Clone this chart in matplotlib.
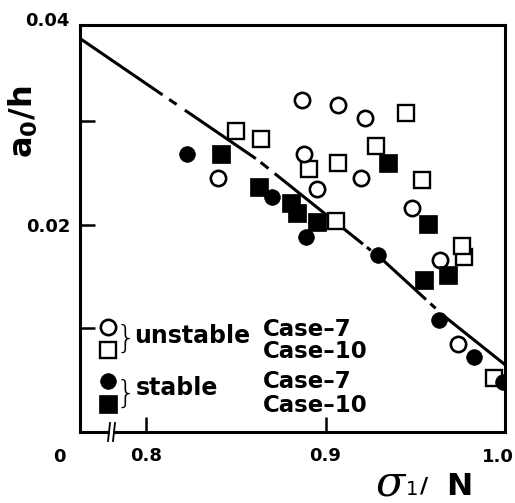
import matplotlib
matplotlib.use("Agg")
import matplotlib.pyplot as plt

plt.rcParams["font.family"] = ["DejaVu Sans"]
plt.rcParams["lines.scale_dashes"] = False
plt.rcParams["mathtext.fontset"] = "dejavusans"

W, H, DPI = 515, 503, 100

# unstable, Case-7 (open circles)
u7_x = [0.840, 0.887, 0.907, 0.922, 0.888, 0.920, 0.895, 0.948, 0.964, 0.974]
u7_y = [0.0245, 0.0321, 0.0316, 0.0303, 0.0268, 0.0245, 0.0235, 0.0216, 0.0166, 0.0085]
# unstable, Case-10 (open squares)
u10_x = [0.850, 0.864, 0.891, 0.907, 0.928, 0.945, 0.954, 0.906, 0.977, 0.976, 0.994]
u10_y = [0.0291, 0.0283, 0.0254, 0.0260, 0.0276, 0.0308, 0.0243, 0.0204, 0.0169, 0.0180, 0.0052]
# stable, Case-7 (filled circles)
s7_x = [0.823, 0.870, 0.889, 0.929, 0.963, 0.983, 0.999]
s7_y = [0.0268, 0.0227, 0.0188, 0.0171, 0.0108, 0.0072, 0.0048]
# stable, Case-10 (filled squares)
s10_x = [0.842, 0.863, 0.881, 0.884, 0.895, 0.935, 0.957, 0.955, 0.968]
s10_y = [0.0268, 0.0237, 0.0221, 0.0211, 0.0203, 0.0260, 0.0201, 0.0147, 0.0152]

# stability boundary
line_x = [0.7632, 0.862, 0.932, 0.966, 1.0]
line_y = [0.0380, 0.0263, 0.0166, 0.0112, 0.0065]

x_ticks = [0.8, 0.9, 1.0]
x_ticklabels = ["0.8", "0.9", ""]
y_ticks = [0.01, 0.02, 0.03]
y_ticklabels = ["", "0.02", ""]

fig = plt.figure(figsize=(W / DPI, H / DPI), dpi=DPI)


def fx(p):
    return p / W


def fy(p):
    return 1 - p / H


ax = fig.add_axes([fx(80), fy(432), fx(505) - fx(80), fy(25) - fy(432)])
ax.set_xlim(0.7632, 1.0)
ax.set_ylim(0.0, 0.0393)

for s in ax.spines.values():
    s.set_linewidth(2.2)

ax.set_xticks(x_ticks)
ax.set_xticklabels(x_ticklabels)
ax.set_yticks(y_ticks)
ax.set_yticklabels(y_ticklabels)
ax.tick_params(direction="in", length=11, width=1.8)
ax.tick_params(axis="x", pad=11, labelsize=13)
ax.tick_params(axis="y", pad=7, labelsize=13)
for lab in ax.get_xticklabels() + ax.get_yticklabels():
    lab.set_fontweight("bold")

# boundary line with its irregular dash-dot rhythm
dash_px = [100, 8, 9, 10, 86, 6, 10, 8, 113, 5, 5, 8, 66, 6, 7, 8, 90, 10]
dash_pt = [d * 0.72 for d in dash_px]
ax.plot(line_x, line_y, color="black", lw=2.2, linestyle=(0, dash_pt),
        solid_capstyle="butt", zorder=2)

ax.plot(u10_x, u10_y, "s", ms=11, mfc="white", mec="black", mew=1.7, zorder=3)
ax.plot(u7_x, u7_y, "o", ms=11, mfc="white", mec="black", mew=1.9, zorder=4)
ax.plot(s10_x, s10_y, "s", ms=12.5, mfc="black", mec="black", mew=0.5, zorder=5)
ax.plot(s7_x, s7_y, "o", ms=11.3, mfc="black", mec="black", mew=0.5, zorder=6)

# legend block
T = ax.transAxes
lx = (108 - 80) / 425


def ay(p):
    return (432 - p) / 407


ax.plot([lx], [ay(327)], "o", ms=11, mfc="white", mec="black", mew=1.9, transform=T, clip_on=False, zorder=7)
ax.plot([lx], [ay(350)], "s", ms=11, mfc="white", mec="black", mew=1.7, transform=T, clip_on=False, zorder=7)
ax.plot([lx], [ay(381)], "o", ms=11.3, mfc="black", mec="black", mew=0.5, transform=T, clip_on=False, zorder=7)
ax.plot([lx], [ay(404)], "s", ms=12.5, mfc="black", mec="black", mew=0.5, transform=T, clip_on=False, zorder=7)

bx = (126 - 80) / 425
ax.text(bx, ay(339), "}", transform=T, ha="center", va="center", fontsize=23, fontweight="light")
ax.text(bx, ay(394), "}", transform=T, ha="center", va="center", fontsize=23, fontweight="light")
ax.text((134 - 80) / 425, ay(336), "unstable", transform=T, ha="left", va="center",
        fontsize=17, fontweight="bold")
ax.text((136 - 80) / 425, ay(388), "stable", transform=T, ha="left", va="center",
        fontsize=17, fontweight="bold")
cx = (263 - 80) / 425
for yy, txt in [(330, "Case\u20137"), (352, "Case\u201310"), (382, "Case\u20137"), (405, "Case\u201310")]:
    ax.text(cx, ay(yy), txt, transform=T, ha="left", va="center", fontsize=16.5, fontweight="bold")

# axis break on the abscissa
for bxp in (109, 114):
    ax.plot([(bxp - 1 - 80) / 425, (bxp + 1 - 80) / 425], [ay(441), ay(423)],
            color="black", lw=1.3, transform=T, clip_on=False, zorder=8)
ax.add_patch(plt.Rectangle(((110 - 80) / 425, ay(434)), 3 / 425, 4 / 407, transform=T,
                           facecolor="white", edgecolor="none", clip_on=False, zorder=7))

# corner labels
fig.text(fx(59), fy(457), "0", ha="center", va="center", fontsize=13, fontweight="bold")
fig.text(fx(70), fy(21), "0.04", ha="right", va="center", fontsize=13, fontweight="bold")
fig.text(fx(514), fy(457), "1.0", ha="right", va="center", fontsize=13, fontweight="bold")

# axis titles
fig.text(fx(23), fy(122), "a$_\\mathregular{0}$/h", rotation=90, ha="center", va="center",
         fontsize=23, fontweight="bold")
fig.text(fx(376), fy(495), "\u03c3", ha="left", va="baseline", fontsize=31,
         family="DejaVu Serif", style="italic")
fig.text(fx(406), fy(495), "1", ha="left", va="baseline", fontsize=14)
fig.text(fx(420), fy(493), "/", ha="left", va="baseline", fontsize=16, fontweight="bold")
fig.text(fx(446), fy(495), "N", ha="left", va="baseline", fontsize=22.5, fontweight="bold")

fig.savefig("out.png", dpi=DPI)
